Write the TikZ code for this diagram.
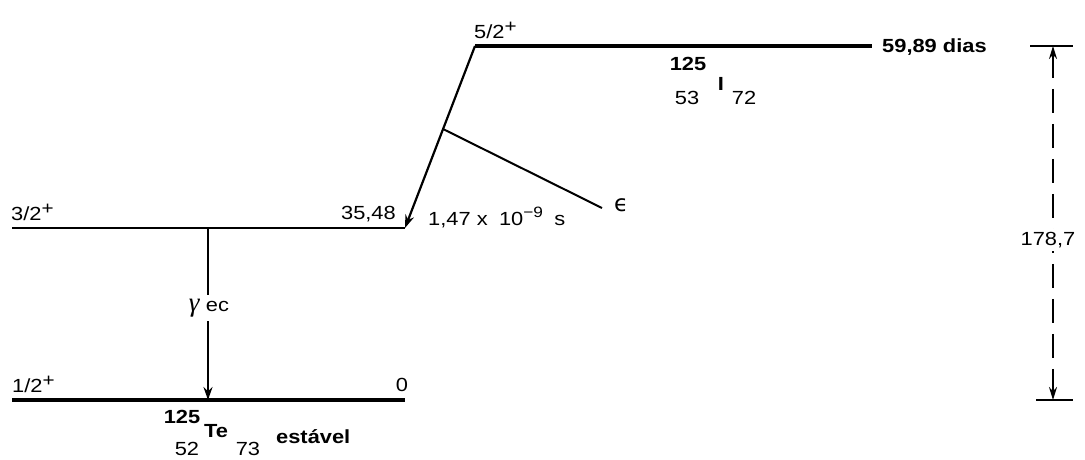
\documentclass[tikz,border=0pt]{standalone}
\usepackage{fontspec}
\setmainfont[FakeStretch=1.15]{Liberation Sans}
\newfontfamily\grkfont{DejaVu Sans}
\newfontfamily\gamfont{Liberation Serif}
\usetikzlibrary{arrows.meta}
\newcommand{\supplus}{\raisebox{6pt}{\fontsize{18}{18}\selectfont +}}
\begin{document}
\begin{tikzpicture}[x=1pt,y=-1pt,
  lbl/.style={inner sep=0pt,font=\fontsize{19}{22}\selectfont},
  blbl/.style={inner sep=0pt,font=\fontsize{19}{22}\selectfont\bfseries},
  thicklevel/.style={line width=4.5pt},
  thinlevel/.style={line width=2pt},
  trans/.style={line width=2.2pt,-{Stealth[length=13pt,width=9pt]}},
  dim/.style={line width=1.8pt,dash pattern=on 24pt off 11pt,{Stealth[length=13pt,width=8pt]}-{Stealth[length=13pt,width=8pt]}}]
\useasboundingbox (0,0) rectangle (1085,459);
% levels
\coordinate (tl) at (475,46); \coordinate (tr) at (872,46);
\coordinate (ml) at (12,228); \coordinate (mr) at (405,228);
\coordinate (bl) at (12,400); \coordinate (br) at (405,400);
\draw[thicklevel] (tl) -- (tr);
\draw[thinlevel] (ml) -- (mr);
\draw[thicklevel] (bl) -- (br);
% EC transition
\draw[trans] (tl) -- (mr);
\coordinate (br1) at (443,129);
\coordinate (eps) at (602,208);
\draw[line width=2pt] (br1) -- (eps);
\node[lbl,anchor=base west] (epsl) at (614,211) {\grkfont\fontsize{23}{24}\selectfont ϵ};
% gamma
\coordinate (gt) at (208,228); \coordinate (gb) at (208,400);
\node[lbl,fill=white,inner sep=4pt] (gl) at (209,308) {{\gamfont\itshape\fontsize{27}{28}\selectfont γ}\,\,ec};
\draw[line width=2pt] (gt) -- (gl.north -| gt);
\draw[trans] (gl.south -| gt) -- (gb);
% dimension
\coordinate (dt) at (1053,46); \coordinate (db) at (1053,400);
\draw[line width=1.8pt] (1030,46) -- (1073,46);
\draw[line width=1.8pt] (1036,400) -- (1073,400);
\draw[dim] (dt) -- (db);
\node[lbl,fill=white,inner sep=3pt] (dl) at (1048,240) {178,7};
% labels
\node[lbl,anchor=base west] (l52) at (474,38) {5/2\supplus};
\node[blbl,anchor=base west] (dias) at (882,52) {59,89 dias};
\node[blbl,anchor=base] (a1) at (688,70) {125};
\node[lbl,anchor=base] (z1) at (687,104) {53};
\node[blbl,anchor=base] (e1) at (721,90) {I};
\node[lbl,anchor=base] (n1) at (744,104) {72};
\node[lbl,anchor=base west] (l32) at (11,220) {3/2\supplus};
\node[lbl,anchor=base east] (e3548) at (396,219) {35,48};
\node[lbl,anchor=base west] (hl) at (428,225) {1,47 x\; 10\raisebox{8pt}{\fontsize{15}{15}\selectfont \char"2212 9}\; s};
\node[lbl,anchor=base west] (l12) at (12,392) {1/2\supplus};
\node[lbl,anchor=base] (zero) at (402,391) {0};
\node[blbl,anchor=base] (a2) at (182,423) {125};
\node[lbl,anchor=base] (z2) at (187,455) {52};
\node[blbl,anchor=base] (e2) at (216,437) {Te};
\node[lbl,anchor=base] (n2) at (248,455) {73};
\node[blbl,anchor=base west] (st) at (276,443) {estável};
\end{tikzpicture}
\end{document}
